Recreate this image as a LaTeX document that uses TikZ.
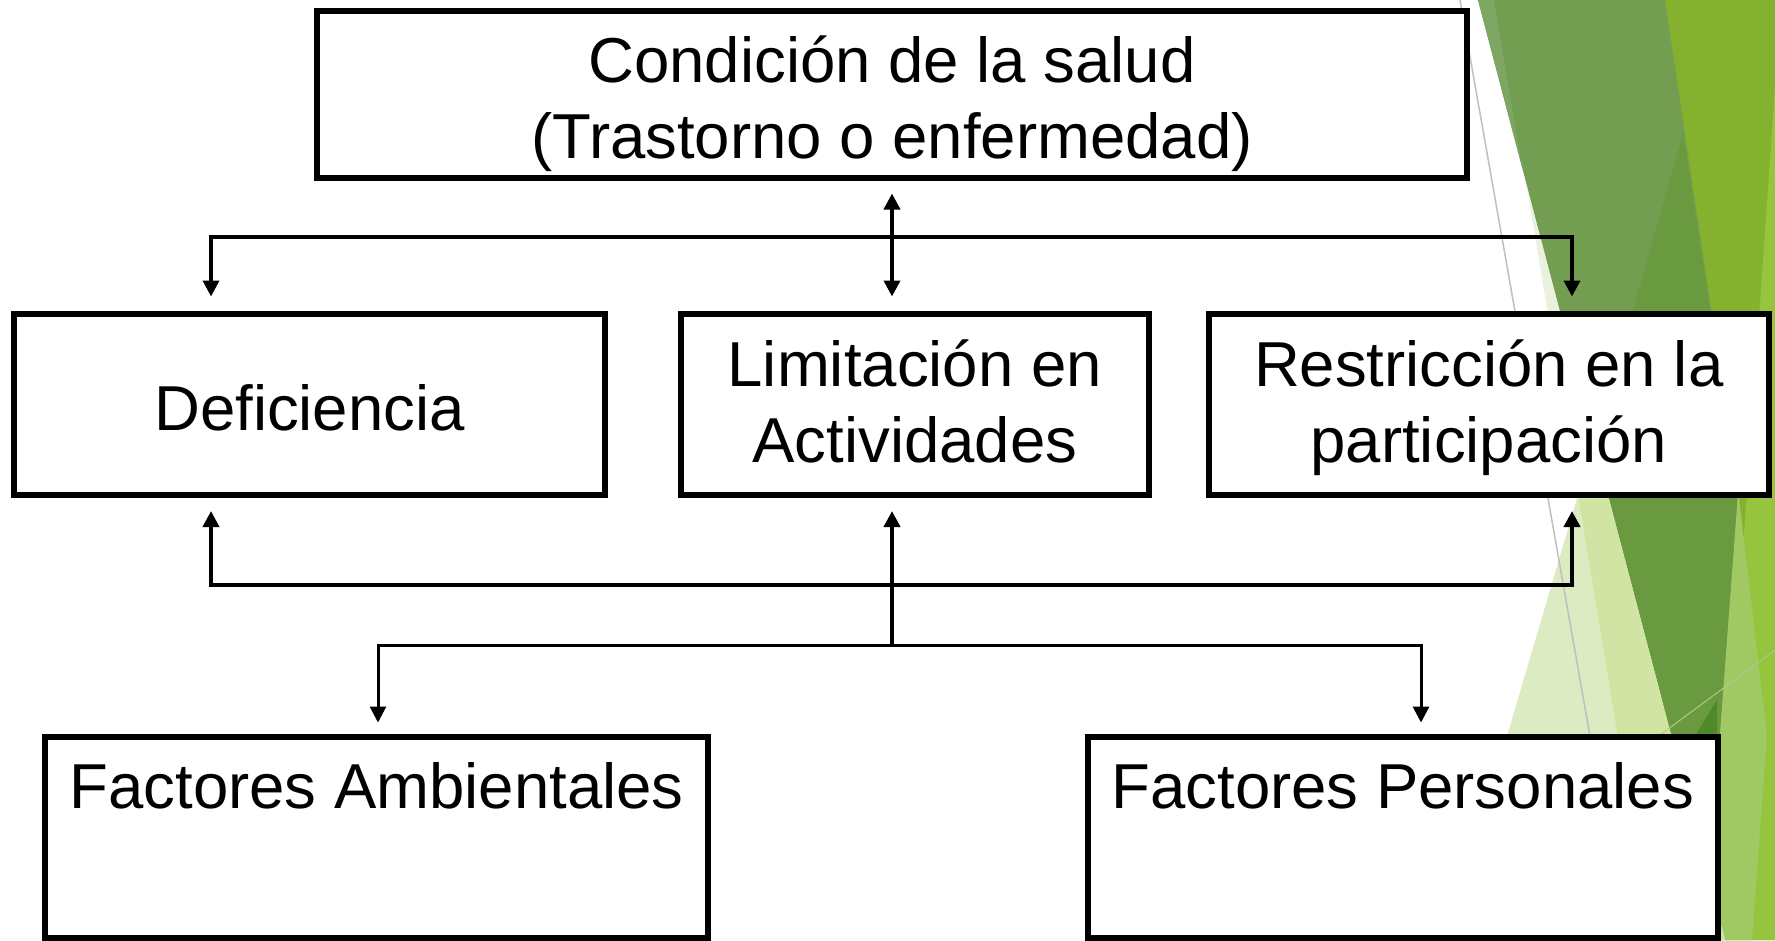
\documentclass[tikz,border=0pt]{standalone}
\usepackage{fontspec}
\setmainfont{Liberation Sans}
\usetikzlibrary{arrows.meta,calc}
\definecolor{brightA}{HTML}{84B22F}
\definecolor{brightB}{HTML}{97C43D}
\definecolor{lightband}{HTML}{A1C963}
\definecolor{sliver}{HTML}{EAF2DE}
\definecolor{dullgreen}{HTML}{739E52}
\definecolor{dullstrip}{HTML}{7DA662}
\definecolor{midgreen}{HTML}{6A9A40}
\definecolor{paleA}{HTML}{DDEBC3}
\definecolor{paleB}{HTML}{D1E4A3}
\definecolor{darkspot}{HTML}{4F8A27}
\definecolor{thinline}{HTML}{AFC88F}
\definecolor{greyline}{HTML}{BFBFBF}
\begin{document}
\begin{tikzpicture}[x=1bp,y=-1bp,
  box/.style={draw=black,fill=white,line width=6bp,inner sep=0pt},
  txt/.style={font=\fontsize{63.5bp}{75.5bp}\selectfont,align=center,inner sep=0pt,anchor=base},
  >={Triangle[width=16bp,length=16bp]},
  conn/.style={line width=3.8bp},
  connthin/.style={line width=3bp}]
\useasboundingbox (0,0) rectangle (1775,940);
\fill[white] (0,0) rectangle (1775,940);
% background facets
\begin{scope}
\clip (0,0) rectangle (1775,940);
\fill[brightA] (1665,0) -- (1800,0) -- (1800,940) -- (1660,940) -- cycle;
\fill[brightB] (1781,0) -- (1800,0) -- (1800,940) -- (1716,940) -- cycle;
\fill[lightband] (1738,490) -- (1767,735) -- (1752,940) -- (1700,940) -- (1709,877) -- cycle;
\fill[sliver] (1527,187) -- (1651,940) -- (1725,940) -- cycle;
\fill[dullgreen] (1478,0) -- (1665,0) -- (1738,490) -- (1709,877) -- cycle;
\fill[dullstrip] (1478,0) -- (1494,0) -- (1522,167) -- cycle;
\fill[midgreen] (1683,133) -- (1738,490) -- (1709,877) -- (1595,446) -- cycle;
\fill[paleA] (1578,495) -- (1651,940) -- (1447,940) -- cycle;
\fill[paleB] (1595,446) -- (1725,940) -- (1651,940) -- (1578,495) -- cycle;
\fill[darkspot] (1717,700) -- (1717,736) -- (1695,736) -- cycle;
\draw[thinline,line width=1bp] (1660,735) -- (1775,650);
\draw[greyline,line width=1.5bp] (1460,0) -- (1626,940);
\end{scope}
% boxes
\node[box,minimum width=1149bp,minimum height=167bp] (top) at (892,94) {};
\node[box,minimum width=590bp,minimum height=181.5bp] (def) at (309.5,404.25) {};
\node[box,minimum width=468.5bp,minimum height=181.5bp] (lim) at (914.75,404.25) {};
\node[box,minimum width=559.5bp,minimum height=181.5bp] (res) at (1488.75,404.25) {};
\node[box,minimum width=662.5bp,minimum height=201.5bp] (amb) at (376.75,837.25) {};
\node[box,minimum width=629.5bp,minimum height=201.5bp] (per) at (1402.75,837.25) {};
% texts (base anchor = baseline of the last line)
\node[txt] (topt) at (892,158) {Condición de la salud\\(Trastorno o enfermedad)};
\node[txt] (deft) at (309.5,430) {Deficiencia};
\node[txt] (limt) at (914.75,462) {Limitación en\\Actividades};
\node[txt] (rest) at (1488.75,462) {Restricción en la\\participación};
\node[txt] (ambt) at (376.75,808) {Factores Ambientales};
\node[txt] (pert) at (1402.75,808) {Factores Personales};
% connector coordinates
\coordinate (tl) at (211,237);
\coordinate (tr) at (1572,237);
\coordinate (bl) at (211,585);
\coordinate (br) at (1572,585);
\coordinate (hub) at (892,645);
\coordinate (ll) at (378,645);
\coordinate (lr) at (1421,645);
% connectors
\draw[conn,<->,shorten <=13bp,shorten >=14bp] (top.south) -- (top.south |- lim.north);
\draw[conn,<->,shorten <=14bp,shorten >=14bp] (tl |- def.north) -- (tl) -- (tr) -- (tr |- res.north);
\draw[conn,<->,shorten <=13bp,shorten >=13bp] (bl |- def.south) -- (bl) -- (br) -- (br |- res.south);
\draw[conn,->,shorten >=13bp] (hub) -- (hub |- lim.south);
\draw[connthin,<->,shorten <=11bp,shorten >=11bp] (ll |- amb.north) -- (ll) -- (lr) -- (lr |- per.north);
\end{tikzpicture}
\end{document}
